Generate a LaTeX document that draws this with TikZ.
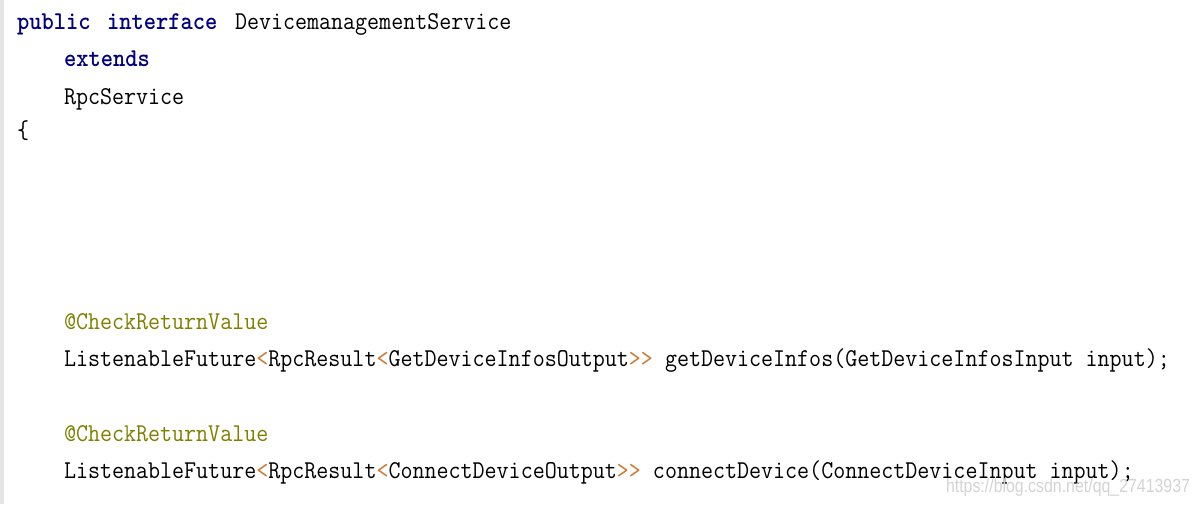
\documentclass[tikz,border=0pt]{standalone}
\usepackage{fontspec}
\newfontfamily\wmfont{Liberation Sans}
\definecolor{kw}{RGB}{0,0,128}
\definecolor{ann}{RGB}{128,128,0}
\definecolor{brk}{RGB}{204,120,50}
\definecolor{wm}{RGB}{212,212,212}
\definecolor{gutter}{RGB}{228,228,228}
\newcommand\codefont{\fontsize{23.34}{23.34}\selectfont\ttfamily}
\newcommand\tx[1]{\scalebox{1}[1.1]{#1}}
\newcommand\cLT{\textcolor{brk}{<}}
\newcommand\cGT{\textcolor{brk}{>}}
\tikzset{
  code/.style={anchor=base west, inner sep=0pt, outer sep=0pt, font=\codefont, text=black},
  kwd/.style={code, text=kw, font=\codefont\bfseries},
  annot/.style={code, text=ann},
  wmark/.style={anchor=base west, inner sep=0pt, outer sep=0pt, text=wm, font=\wmfont\fontsize{19}{19}\selectfont}
}
\begin{document}
\begin{tikzpicture}[x=1pt,y=-1pt]
\fill[white] (0,0) rectangle (1200,504);
\useasboundingbox (0,0) rectangle (1200,504);
\fill[gutter] (0,0) rectangle (3.5,504);
% header
\node[kwd] (pub) at (17,29) {\tx{public}};
\node[kwd] (intf) at (107,29) {\tx{interface}};
\node[code] (name) at (235,29) {\tx{DevicemanagementService}};
\node[kwd] (ext) at (64,66.5) {\tx{extends}};
\node[code] (rpc) at (64,104) {\tx{RpcService}};
\node[code] (brace) at (17,138) {\tx{\{}};
% method 1
\node[annot] (ann1) at (64,329) {\tx{@CheckReturnValue}};
\node[code] (m1) at (64,366) {\tx{ListenableFuture\cLT RpcResult\cLT GetDeviceInfosOutput\cGT\cGT{} getDeviceInfos(GetDeviceInfosInput input);}};
% method 2
\node[annot] (ann2) at (64,441) {\tx{@CheckReturnValue}};
\node[code] (m2) at (64,478) {\tx{ListenableFuture\cLT RpcResult\cLT ConnectDeviceOutput\cGT\cGT{} connectDevice(ConnectDeviceInput input);}};
% watermark
\node[wmark] (wmk) at (946,492) {\scalebox{0.837}[1]{https://blog.csdn.net/qq\_27413937}};
\end{tikzpicture}
\end{document}
